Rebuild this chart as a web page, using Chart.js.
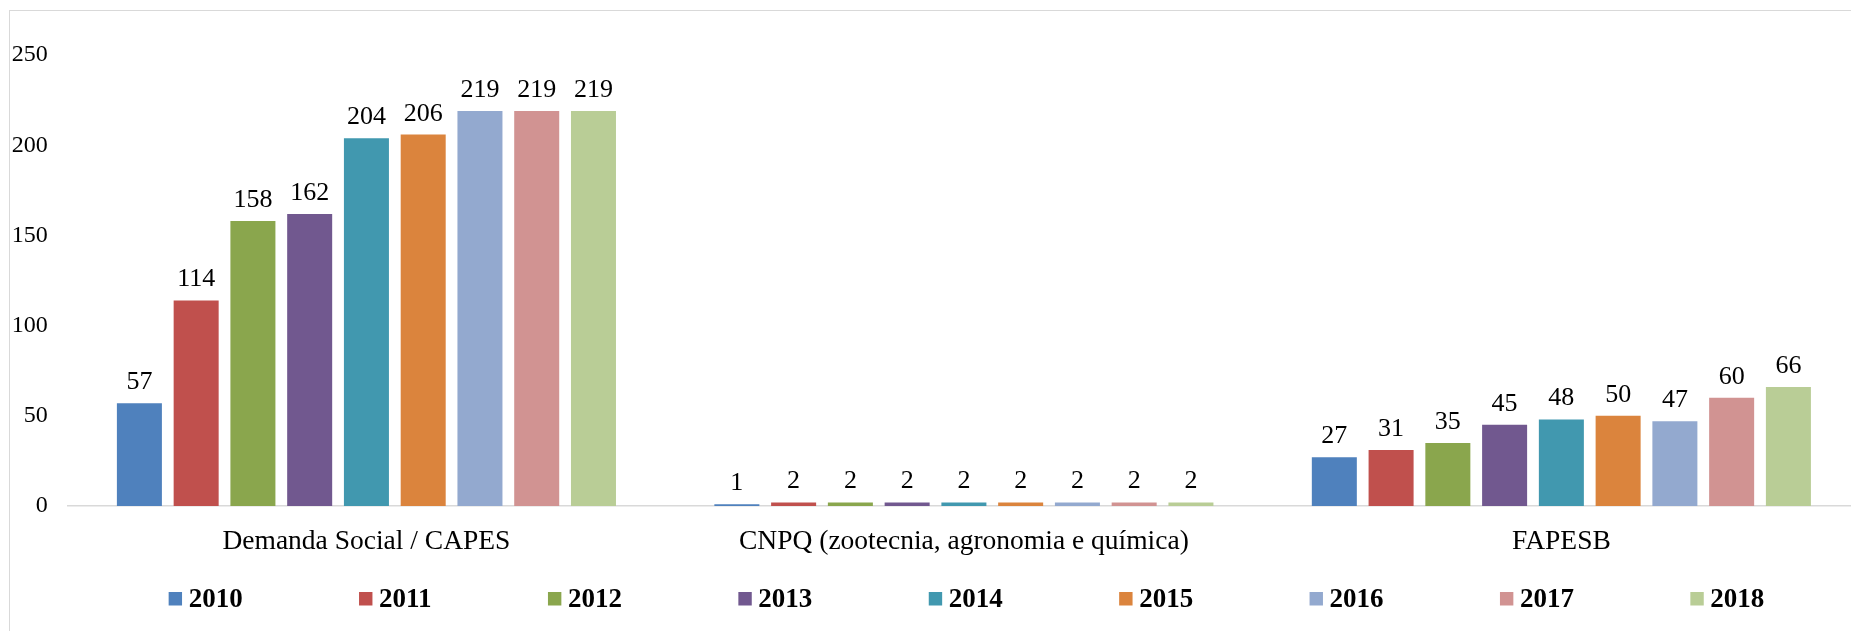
<!DOCTYPE html>
<html>
<head>
<meta charset="utf-8">
<script src="https://cdn.jsdelivr.net/npm/chart.js@4.4.0/dist/chart.umd.min.js"></script>
<style>
html, body { margin: 0; padding: 0; background: #fff; overflow: hidden; width: 1851px; height: 631px; }
#frame { position: absolute; left: 9px; top: 10px; width: 1913px; height: 660px; border: 1px solid #d9d9d9; background: #fff; }
canvas { display: block; }
</style>
</head>
<body>
<div id="frame"><canvas id="c" width="1913" height="660"></canvas></div>
<script>
// ---- data ----
const categories = ['Demanda Social / CAPES', 'CNPQ (zootecnia, agronomia e química)', 'FAPESB'];
const years = ['2010', '2011', '2012', '2013', '2014', '2015', '2016', '2017', '2018'];
const v2010 = [57, 1, 27];
const v2011 = [114, 2, 31];
const v2012 = [158, 2, 35];
const v2013 = [162, 2, 45];
const v2014 = [204, 2, 48];
const v2015 = [206, 2, 50];
const v2016 = [219, 2, 47];
const v2017 = [219, 2, 60];
const v2018 = [219, 2, 66];
const yTickValues = [0, 50, 100, 150, 200, 250];

const seriesValues = [v2010, v2011, v2012, v2013, v2014, v2015, v2016, v2017, v2018];
const seriesColors = ['#4F81BD', '#C0504D', '#8AA64D', '#71588F', '#4198AF', '#DB843D', '#93A9CF', '#D19392', '#B9CD96'];

const SERIF = '"Liberation Serif", "Times New Roman", serif';

const datasets = years.map((y, i) => ({
  label: y,
  data: seriesValues[i],
  backgroundColor: seriesColors[i],
  borderWidth: 0,
  categoryPercentage: 0.855,
  barPercentage: 0.793
}));

const valueLabels = {
  id: 'valueLabels',
  afterDatasetsDraw(chart) {
    const ctx = chart.ctx;
    ctx.save();
    ctx.font = '26px ' + SERIF;
    ctx.fillStyle = '#000';
    ctx.textAlign = 'center';
    ctx.textBaseline = 'alphabetic';
    chart.data.datasets.forEach((ds, di) => {
      const meta = chart.getDatasetMeta(di);
      meta.data.forEach((bar, i) => {
        ctx.fillText(String(ds.data[i]), bar.x, bar.y - 14);
      });
    });
    ctx.restore();
  }
};

const customLegend = {
  id: 'customLegend',
  afterDraw(chart) {
    const ctx = chart.ctx;
    ctx.save();
    ctx.font = 'bold 27px ' + SERIF;
    const box = 13.4, gap = 6.6, itemGap = 116.4;
    const items = chart.data.datasets.map(d => ({
      t: d.label, c: d.backgroundColor, tw: ctx.measureText(d.label).width
    }));
    const total = items.reduce((s, it) => s + box + gap + it.tw, 0) + itemGap * (items.length - 1);
    let x = chart.width / 2 - total / 2;
    const boxTop = 581, textBase = 596;
    ctx.textAlign = 'left';
    ctx.textBaseline = 'alphabetic';
    items.forEach(it => {
      ctx.fillStyle = it.c;
      ctx.fillRect(x, boxTop, box, 13.5);
      ctx.fillStyle = '#000';
      ctx.fillText(it.t, x + box + gap, textBase);
      x += box + gap + it.tw + itemGap;
    });
    ctx.restore();
  }
};

new Chart(document.getElementById('c'), {
  type: 'bar',
  data: { labels: categories, datasets },
  plugins: [valueLabels, customLegend],
  options: {
    responsive: false,
    animation: false,
    devicePixelRatio: 1,
    layout: { padding: { left: 0, right: 62.9, top: 44.2, bottom: 105 } },
    plugins: { legend: { display: false }, tooltip: { enabled: false } },
    scales: {
      x: {
        grid: { display: false, drawTicks: false },
        border: { display: true, color: '#d9d9d9', width: 1.5 },
        ticks: { color: '#000', font: { family: SERIF, size: 27.5 }, padding: 19.5, maxRotation: 0, autoSkip: false },
        afterFit(scale) { scale.height = 60; }
      },
      y: {
        min: 0, max: 250,
        grid: { display: false, drawTicks: false },
        border: { display: false },
        afterBuildTicks(scale) { scale.ticks = yTickValues.map(v => ({ value: v })); },
        ticks: { color: '#000', font: { family: SERIF, size: 24 }, padding: 20 },
        afterFit(scale) { scale.width = 57.7; }
      }
    }
  }
});
</script>
</body>
</html>
